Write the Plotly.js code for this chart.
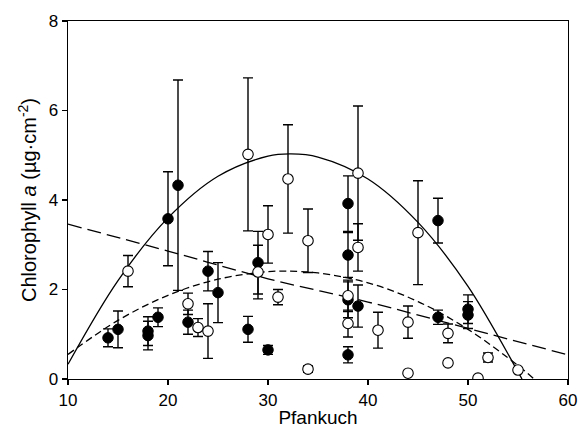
<!DOCTYPE html>
<html><head><meta charset="utf-8">
<script src="https://cdn.plot.ly/plotly-3.0.1.min.js"></script>
<style>html,body{margin:0;padding:0;background:#fff}</style>
</head><body><div id="chart" style="width:578px;height:435px"></div>
<script>
// Open circles
var openX = [16, 22, 23, 24, 28, 29, 30, 31, 32, 34, 34, 38, 38, 39, 39, 41, 44, 44, 45, 48, 48, 51, 52, 55];
var openY = [2.41, 1.68, 1.15, 1.07, 5.02, 2.39, 3.23, 1.83, 4.47, 3.09, 0.22, 1.86, 1.24, 4.60, 2.94, 1.09, 1.27, 0.13, 3.27, 1.02, 0.36, 0.02, 0.48, 0.20];
var openErr = [0.35, 0.24, 0.20, 0.61, 1.71, 0.60, 0.64, 0.17, 1.21, 0.71, 0.07, 0.35, 0.30, 1.50, 0.53, 0.40, 0.36, 0.04, 1.16, 0.21, 0.05, 0.03, 0.10, 0.05];
// Filled circles
var filledX = [14, 15, 18, 18, 19, 20, 21, 22, 24, 25, 28, 29, 30, 38, 38, 38, 38, 39, 47, 47, 50, 50];
var filledY = [0.92, 1.11, 1.07, 0.97, 1.38, 3.58, 4.33, 1.27, 2.41, 1.93, 1.11, 2.60, 0.65, 3.92, 2.77, 1.77, 0.54, 1.63, 3.54, 1.38, 1.56, 1.43];
var filledErr = [0.20, 0.41, 0.32, 0.32, 0.21, 1.05, 2.35, 0.27, 0.44, 0.67, 0.29, 0.70, 0.10, 0.62, 0.50, 0.40, 0.18, 0.47, 0.50, 0.16, 0.32, 0.30];
// Fitted curves
var solidX = [10, 15, 20, 25, 30, 32.3, 35, 40, 45, 50, 55, 55.4];
var solidY = [0.33, 2.20, 3.60, 4.53, 4.98, 5.03, 4.96, 4.47, 3.50, 2.07, 0.16, 0.0];
var shortDashX = [10, 15, 20, 25, 30, 31.8, 35, 40, 45, 50, 55, 56.6];
var shortDashY = [0.55, 1.31, 1.87, 2.23, 2.40, 2.41, 2.37, 2.15, 1.73, 1.11, 0.30, 0.0];
var longDashX = [10, 20, 30, 40, 50, 60];
var longDashY = [3.46, 2.86, 2.24, 1.72, 1.13, 0.54];

var FONT = 'Liberation Sans, Arial, sans-serif';
var lineCol = '#000';
var traces = [
  {x: solidX, y: solidY, mode: 'lines', line: {color: lineCol, width: 1.3, shape: 'spline'}, hoverinfo: 'skip'},
  {x: shortDashX, y: shortDashY, mode: 'lines', line: {color: lineCol, width: 1.3, shape: 'spline', dash: '7px,4px'}, hoverinfo: 'skip'},
  {x: longDashX, y: longDashY, mode: 'lines', line: {color: lineCol, width: 1.3, shape: 'spline', dash: '14px,6px'}, hoverinfo: 'skip'},
  {x: filledX, y: filledY, mode: 'markers', type: 'scatter',
   error_y: {type: 'data', array: filledErr, visible: true, color: '#000', thickness: 1.4, width: 5},
   marker: {symbol: 'circle', size: 10.5, color: '#000', line: {color: '#000', width: 1}}},
  {x: openX, y: openY, mode: 'markers', type: 'scatter',
   error_y: {type: 'data', array: openErr, visible: true, color: '#000', thickness: 1.4, width: 5},
   marker: {symbol: 'circle', size: 10.5, color: '#fff', line: {color: '#000', width: 1.1}}}
];

var axisCommon = {
  showline: true, linecolor: '#000', linewidth: 1.3, mirror: true,
  ticks: 'outside', ticklen: 5, tickwidth: 1.3, tickcolor: '#000',
  showgrid: false, zeroline: false, ticklabeloverflow: 'allow',
  tickfont: {family: FONT, size: 17, color: '#000'}
};
var layout = {
  width: 578, height: 435,
  margin: {l: 68, r: 10, t: 21, b: 56},
  paper_bgcolor: '#fff', plot_bgcolor: '#fff',
  showlegend: false,
  xaxis: Object.assign({}, axisCommon, {
    range: [10, 60], tickvals: [10, 20, 30, 40, 50, 60],
    title: {text: 'Pfankuch', font: {family: FONT, size: 19, color: '#000'}, standoff: 2}
  }),
  yaxis: Object.assign({}, axisCommon, {
    range: [0, 8], tickvals: [0, 2, 4, 6, 8],
    title: {text: 'Chlorophyll <i>a</i> (µg·cm<sup>-2</sup>)', font: {family: FONT, size: 20, color: '#000'}, standoff: 6}
  })
};
Plotly.newPlot('chart', traces, layout, {displayModeBar: false, staticPlot: true});
</script>
</body></html>
